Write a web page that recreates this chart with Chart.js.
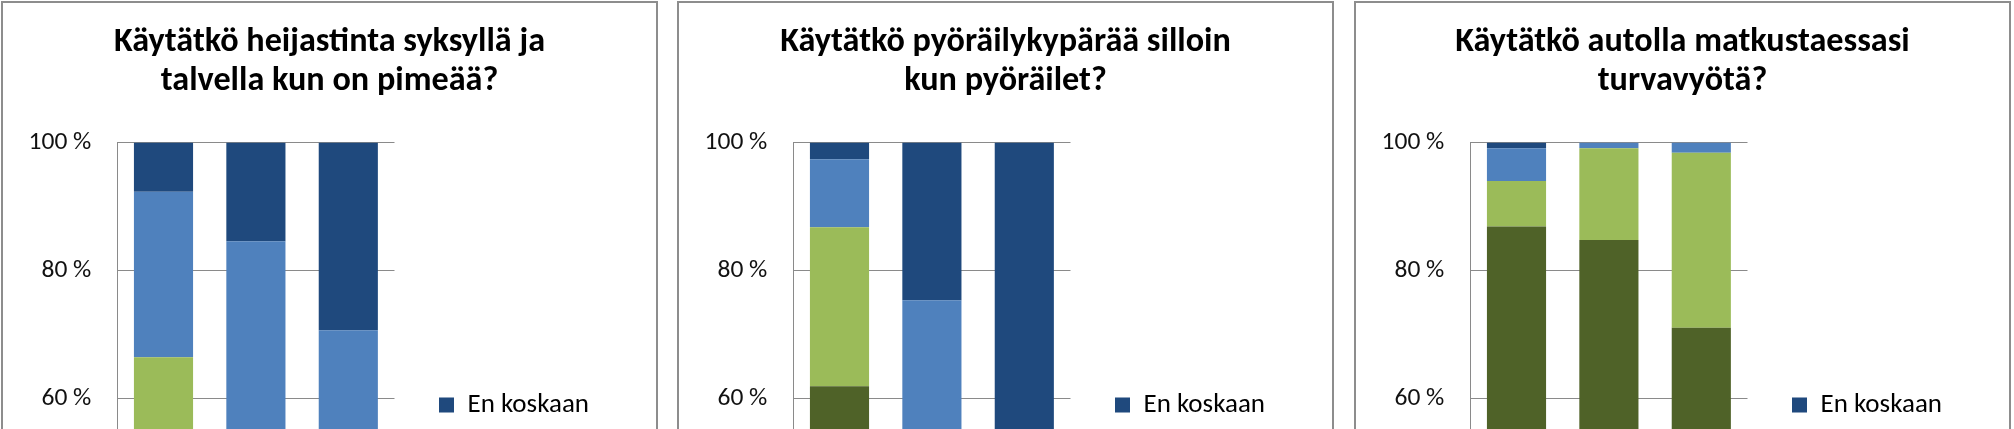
<!DOCTYPE html>
<html lang="fi">
<head>
<meta charset="utf-8">
<title>Turvallisuusvälineiden käyttö</title>
<script src="https://cdn.jsdelivr.net/npm/chart.js@4.4.1/dist/chart.umd.min.js"></script>
<style>
    html, body {
        margin: 0;
        padding: 0;
        background: #fff;
        width: 2014px;
        height: 429px;
        overflow: hidden;
    }
    .panel {
        position: absolute;
        top: 1px;
        width: 657px;
        height: 900px;
        box-sizing: border-box;
        border: 2px solid #8d8d8d;
        background: #fff;
    }
    .panel canvas {
        display: block;
    }
</style>
</head>
<body>
<div class="panel" style="left: 1px"><canvas id="heijastinChart" width="653" height="822"></canvas></div>
<div class="panel" style="left: 677px"><canvas id="kyparaChart" width="653" height="822"></canvas></div>
<div class="panel" style="left: 1354px"><canvas id="turvavyoChart" width="653" height="822"></canvas></div>

<script>
// luokat ja vastausvaihtoehdot (alareuna ei näy kuvassa, arvioitu)
const categories = ['3. lk', '6. lk', '9. lk']
const seriesNames = ['Aina', 'Usein', 'Harvoin', 'En koskaan']
const yTicks = [0, 20, 40, 60, 80, 100]

// heijastin, % vastanneista (alhaalta ylös)
const heijastinAina = [40.5, 18.0, 12.0]
const heijastinUsein = [26.0, 22.0, 18.7]
const heijastinHarvoin = [25.8, 44.6, 40.0]
const heijastinEnKoskaan = [7.7, 15.4, 29.3]

// pyöräilykypärä
const kyparaAina = [62.0, 18.0, 8.0]
const kyparaUsein = [24.8, 22.0, 12.0]
const kyparaHarvoin = [10.6, 35.4, 20.0]
const kyparaEnKoskaan = [2.6, 24.6, 60.0]

// turvavyö
const turvavyoAina = [86.9, 84.8, 71.1]
const turvavyoUsein = [7.1, 14.3, 27.3]
const turvavyoHarvoin = [5.1, 0.9, 1.6]
const turvavyoEnKoskaan = [0.9, 0.0, 0.0]

const heijastinTitle = ['Käytätkö heijastinta syksyllä ja', 'talvella kun on pimeää?']
const kyparaTitle = ['Käytätkö pyöräilykypärää silloin', 'kun pyöräilet?']
const turvavyoTitle = ['Käytätkö autolla matkustaessasi', 'turvavyötä?']

// tyylit
const seriesColors = ['#4f6228', '#9bbb59', '#4f81bd', '#1f497d']
const FONT = 'Calibri, Carlito, Lato, sans-serif'
const GRID = '#8a8a8a'

const CANVAS_W = 653
const CANVAS_H = 822
const AXIS_X = 114.3       // y-akselin paikka
const PLOT_RIGHT = 391.5   // piirtoalueen oikea reuna
const PLOT_TOP = 139.5
const PLOT_BOTTOM = 781.5
const TITLE_SIZE = 34.2
const TITLE_LINE = 39
const TITLE_PAD = 20.3
const TICK_FONT = 25.5
const LEGEND_FONT = 27
const LEGEND_BOX = 15
const LEGEND_GAP = 44.5    // piirtoalueen reunasta selitteen laatikkoon
const LEGEND_FIRST_Y = 388.5

function measure(text, font) {
    const c = document.createElement('canvas').getContext('2d')
    c.font = font
    return c.measureText(text).width
}

function buildChart(id, title, series) {
    const el = document.getElementById(id)
    if (!el) return

    // selitteen luonnollinen leveys -> loput tyhjällä apuakselilla oikeaan reunaan
    const longest = Math.max(...seriesNames.map((n) => measure(n, LEGEND_FONT + 'px ' + FONT)))
    const legendWidth = LEGEND_GAP + LEGEND_BOX + LEGEND_FONT / 2 + longest + 10
    const filler = Math.max(CANVAS_W - PLOT_RIGHT - legendWidth, 0)

    new Chart(el, {
        type: 'bar',
        data: {
            labels: categories,
            datasets: series.map((data, i) => ({
                label: seriesNames[i],
                data: data,
                yAxisID: 'y',
                backgroundColor: seriesColors[i],
                borderWidth: 0,
                barPercentage: 0.64,
                categoryPercentage: 1
            }))
        },
        options: {
            responsive: false,
            animation: false,
            events: [],
            layout: { padding: 0 },
            plugins: {
                title: {
                    display: true,
                    text: title,
                    color: '#000',
                    font: { family: FONT, size: TITLE_SIZE, weight: 'bold', lineHeight: TITLE_LINE / TITLE_SIZE },
                    padding: { top: TITLE_PAD, bottom: PLOT_TOP - TITLE_PAD - 2 * TITLE_LINE }
                },
                legend: {
                    display: true,
                    position: 'right',
                    align: 'start',
                    reverse: true,
                    maxWidth: 600,
                    title: {
                        display: true,
                        text: '',
                        font: { size: 10, lineHeight: 1 },
                        padding: { top: 0, bottom: LEGEND_FIRST_Y - LEGEND_GAP - 10 }
                    },
                    labels: {
                        boxWidth: LEGEND_BOX,
                        boxHeight: LEGEND_BOX,
                        padding: LEGEND_GAP,
                        color: '#000',
                        font: { family: FONT, size: LEGEND_FONT }
                    }
                },
                tooltip: { enabled: false }
            },
            scales: {
                y: {
                    stacked: true,
                    min: 0,
                    max: 100,
                    afterBuildTicks: (scale) => {
                        scale.ticks = yTicks.map((v) => ({ value: v }))
                    },
                    grid: { color: GRID, lineWidth: 1, drawTicks: false },
                    border: { display: true, color: GRID },
                    ticks: {
                        padding: 26,
                        color: '#111',
                        font: { family: FONT, size: TICK_FONT },
                        callback: (v) => v + ' %'
                    },
                    afterFit: (scale) => {
                        scale.width = AXIS_X
                    }
                },
                x: {
                    stacked: true,
                    grid: { display: false },
                    border: { display: true, color: GRID },
                    ticks: { color: '#111', font: { family: FONT, size: TICK_FONT } },
                    afterFit: (scale) => {
                        scale.height = CANVAS_H - PLOT_BOTTOM
                    }
                },
                // tyhjä tila selitteen oikealla puolella
                filler: {
                    type: 'linear',
                    position: 'right',
                    weight: 2000,
                    grid: { display: false },
                    border: { display: false },
                    ticks: { display: false },
                    afterFit: (scale) => {
                        scale.width = filler
                    }
                }
            }
        }
    })
}

buildChart('heijastinChart', heijastinTitle,
    [heijastinAina, heijastinUsein, heijastinHarvoin, heijastinEnKoskaan])
buildChart('kyparaChart', kyparaTitle,
    [kyparaAina, kyparaUsein, kyparaHarvoin, kyparaEnKoskaan])
buildChart('turvavyoChart', turvavyoTitle,
    [turvavyoAina, turvavyoUsein, turvavyoHarvoin, turvavyoEnKoskaan])
</script>
</body>
</html>
